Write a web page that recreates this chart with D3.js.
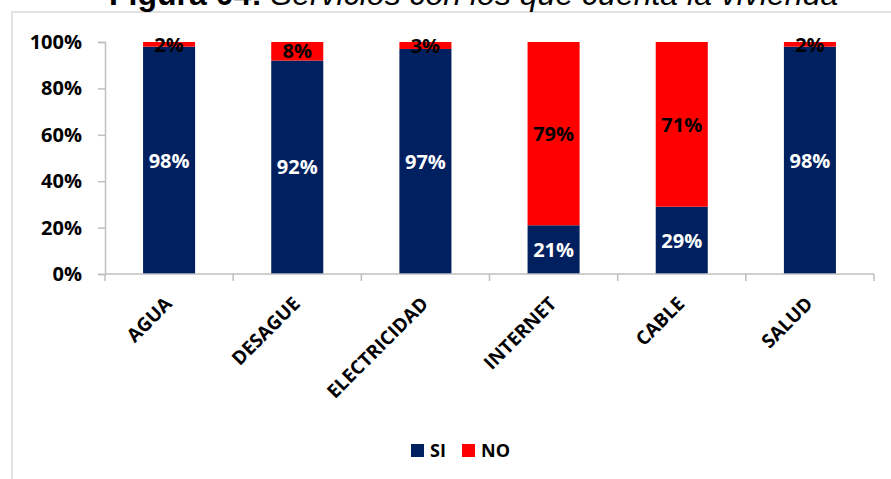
<!DOCTYPE html>
<html>
<head>
<meta charset="utf-8">
<script src="https://cdn.jsdelivr.net/npm/d3@7"></script>
<style>
  html, body { margin: 0; padding: 0; background: #fff; }
  svg { display: block; }
</style>
</head>
<body>
<svg id="chart" width="891" height="479"></svg>
<script>
// Services available in the dwelling (share of households)
const categories = ["AGUA", "DESAGUE", "ELECTRICIDAD", "INTERNET", "CABLE", "SALUD"];
const siValues = [0.98, 0.92, 0.97, 0.21, 0.29, 0.98];
const noValues = [0.02, 0.08, 0.03, 0.79, 0.71, 0.02];
const seriesNames = ["SI", "NO"];
const yTicks = [0, 0.2, 0.4, 0.6, 0.8, 1.0];

const colors = { SI: "#002060", NO: "#ff0000" };
const labelColors = { SI: "#ffffff", NO: "#000000" };
const axisColor = "#bfbfbf";
const fontBold = "'Open Sans', 'Noto Sans', sans-serif";

const svg = d3.select("#chart");

// outer frame
svg.append("rect")
  .attr("x", 12).attr("y", 12)
  .attr("width", 900).attr("height", 500)
  .attr("fill", "none")
  .attr("stroke", "#d9d9d9")
  .attr("stroke-width", 1.5);

// title
const title = svg.append("text")
  .attr("x", 109).attr("y", 5)
  .attr("font-family", "'Liberation Sans', Arial, sans-serif")
  .attr("font-size", 32)
  .attr("fill", "#000");
title.append("tspan").attr("font-weight", "bold").text("Figura 04:");
title.append("tspan").attr("font-style", "italic").text(" Servicios con los que cuenta la vivienda");

const plot = { left: 105, right: 874, top: 42, bottom: 274 };

const x = d3.scaleBand()
  .domain(categories)
  .range([plot.left, plot.right])
  .paddingInner(0.594)
  .paddingOuter(0.297);

const y = d3.scaleLinear()
  .domain([0, 1])
  .range([plot.bottom, plot.top]);

// stacked data
const rows = categories.map((c, i) => ({ cat: c, SI: siValues[i], NO: noValues[i] }));
const stack = d3.stack().keys(seriesNames)(rows);

const g = svg.append("g");
stack.forEach(layer => {
  const key = layer.key;
  g.append("g").selectAll("rect")
    .data(layer)
    .join("rect")
    .attr("x", d => x(d.data.cat))
    .attr("y", d => y(d[1]))
    .attr("width", x.bandwidth())
    .attr("height", d => y(d[0]) - y(d[1]))
    .attr("fill", colors[key]);
});

// y axis
const yAxis = svg.append("g")
  .attr("transform", `translate(${plot.left},0)`)
  .call(d3.axisLeft(y).tickValues(yTicks).tickFormat(d3.format(".0%")).tickSize(7).tickPadding(16));
yAxis.select(".domain").attr("stroke", axisColor).attr("stroke-width", 1.5);
yAxis.selectAll(".tick line").attr("stroke", axisColor).attr("stroke-width", 1.5);
yAxis.selectAll(".tick text")
  .attr("font-family", fontBold)
  .attr("font-weight", "bold")
  .attr("font-size", 20)
  .attr("fill", "#000");

// x axis: baseline with boundary ticks between categories
const xAxisG = svg.append("g");
xAxisG.append("line")
  .attr("x1", plot.left).attr("x2", plot.right)
  .attr("y1", plot.bottom).attr("y2", plot.bottom)
  .attr("stroke", axisColor).attr("stroke-width", 1.5);
const step = x.step();
const boundaries = d3.range(categories.length + 1).map(i => plot.left + i * step);
xAxisG.selectAll("line.bt")
  .data(boundaries)
  .join("line")
  .attr("class", "bt")
  .attr("x1", d => d).attr("x2", d => d)
  .attr("y1", plot.bottom).attr("y2", plot.bottom + 7)
  .attr("stroke", axisColor).attr("stroke-width", 1.5);

xAxisG.selectAll("text")
  .data(categories)
  .join("text")
  .attr("transform", d => `translate(${x(d) + x.bandwidth() / 2 + 4},${plot.bottom + 31}) rotate(-45)`)
  .attr("text-anchor", "end")
  .attr("font-family", fontBold)
  .attr("font-weight", "bold")
  .attr("font-size", 19)
  .attr("fill", "#000")
  .text(d => d);

// data labels
stack.forEach(layer => {
  const key = layer.key;
  g.append("g").selectAll("text")
    .data(layer)
    .join("text")
    .attr("x", d => x(d.data.cat) + x.bandwidth() / 2)
    .attr("y", d => (y(d[0]) + y(d[1])) / 2)
    .attr("dy", "0.36em")
    .attr("text-anchor", "middle")
    .attr("font-family", fontBold)
    .attr("font-weight", "bold")
    .attr("font-size", 20)
    .attr("fill", labelColors[key])
    .text(d => d3.format(".0%")(d.data[key]));
});

// legend
const legend = svg.append("g");
const legendItems = [
  { key: "SI", x: 411 },
  { key: "NO", x: 462 }
];
legendItems.forEach(it => {
  legend.append("rect")
    .attr("x", it.x).attr("y", 444)
    .attr("width", 13).attr("height", 13)
    .attr("fill", colors[it.key]);
  legend.append("text")
    .attr("x", it.x + 19).attr("y", 451)
    .attr("dy", "0.36em")
    .attr("font-family", fontBold)
    .attr("font-weight", "bold")
    .attr("font-size", 18)
    .attr("fill", "#000")
    .text(it.key);
});
</script>
</body>
</html>
